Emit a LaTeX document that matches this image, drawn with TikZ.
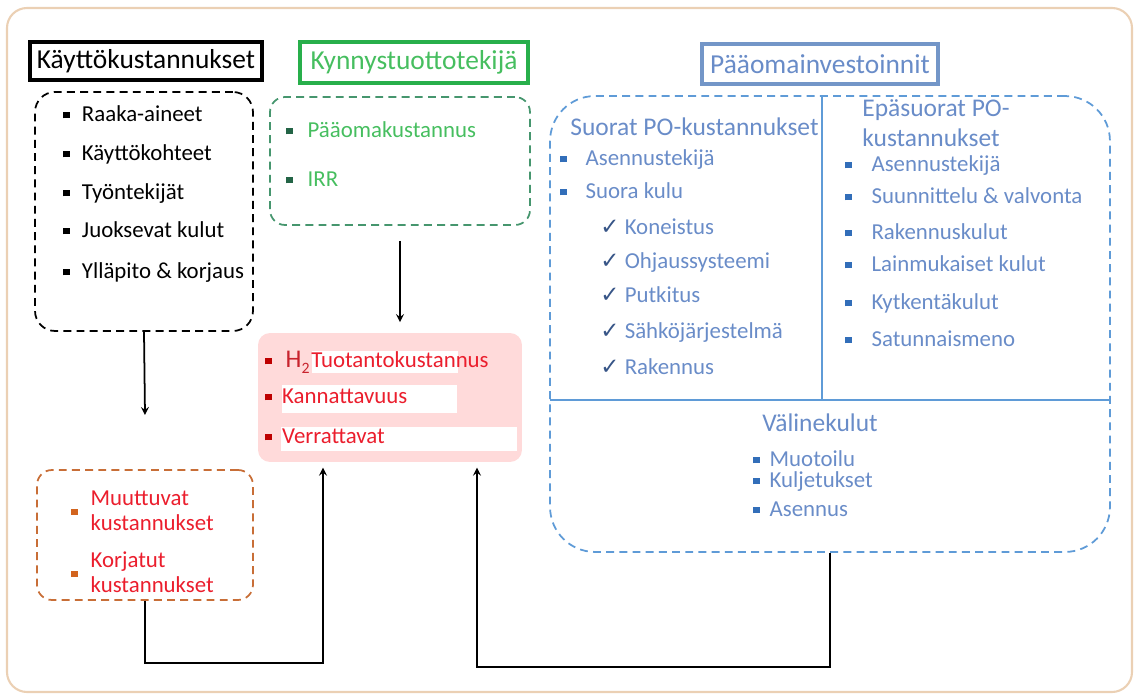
\documentclass[tikz,border=0pt]{standalone}
\usepackage{fontspec}
\setmainfont{Carlito}
\newfontfamily\symfont{DejaVu Sans}
\usetikzlibrary{arrows,positioning}

\definecolor{bord}{RGB}{235,208,180}
\definecolor{kgreen}{RGB}{40,175,75}
\definecolor{tgreen}{RGB}{70,190,95}
\definecolor{dgreen}{RGB}{70,150,110}
\definecolor{bgreen}{RGB}{35,100,70}
\definecolor{tblue}{RGB}{105,140,200}
\definecolor{kblue}{RGB}{115,150,200}
\definecolor{lblue}{RGB}{95,155,215}
\definecolor{bblue}{RGB}{50,110,185}
\definecolor{cblue}{RGB}{55,85,135}
\definecolor{tred}{RGB}{235,30,45}
\definecolor{hred}{RGB}{200,35,45}
\definecolor{bred}{RGB}{190,0,0}
\definecolor{pinkf}{RGB}{255,218,218}
\definecolor{orng}{RGB}{200,110,55}
\definecolor{borng}{RGB}{210,100,30}

\newcommand\blt[2][7pt]{\textcolor{#2}{\rule[0.3ex]{3.6pt}{3.6pt}}\hspace{#1}}
\newcommand\chk{{\color{cblue}\symfont ✓}\hspace{3pt}}

\tikzset{
  ttl/.style={draw, line width=2.2pt, inner sep=0pt,
    font=\fontsize{15.6}{18}\selectfont},
  dbox/.style={draw, line width=1pt, dash pattern=on 4.5pt off 3pt,
    rounded corners=0.4cm, inner sep=0pt},
  itm/.style={anchor=west, inner sep=0pt, text height=9pt, text depth=2.5pt,
    font=\fontsize{13}{15}\selectfont},
  hdg/.style={anchor=west, inner sep=0pt, text=tblue,
    font=\fontsize{14.5}{17}\selectfont},
  arr/.style={->, >=stealth, line width=1pt},
}

\begin{document}
\begin{tikzpicture}[x=0.02cm, y=-0.02cm]
  \useasboundingbox (0,0) rectangle (1136,695);
  \draw[bord, line width=1.2pt, rounded corners=0.4cm] (7,8) rectangle (1132,692);

  % titles
  \node[ttl, minimum width=4.64cm, minimum height=0.76cm] (ttlk) at (146,61)
    {Käyttökustannukset};
  \node[ttl, kgreen, text=tgreen, line width=1.8pt, minimum width=4.56cm,
    minimum height=0.82cm] (ttly) at (414,62.5) {Kynnystuottotekijä};
  \node[ttl, kblue, text=tblue, minimum width=4.72cm, minimum height=0.8cm]
    (ttlp) at (820,64) {Pääomainvestoinnit};

  % boxes
  \node[dbox, minimum width=4.36cm, minimum height=4.78cm] (kaytto) at (144,211.5) {};
  \node[dbox, dgreen, rounded corners=0.3cm, minimum width=5.2cm,
    minimum height=2.56cm] (kynnys) at (400,161) {};
  \node[fill=pinkf, rounded corners=0.24cm, minimum width=5.28cm,
    minimum height=2.58cm] (tulos) at (390,397.5) {};
  \node[dbox, orng, rounded corners=0.3cm, minimum width=4.32cm,
    minimum height=2.6cm] (muut) at (145,535) {};
  \node[dbox, lblue, rounded corners=0.9cm, minimum width=11.2cm,
    minimum height=9.12cm] (invest) at (830,324) {};
  \draw[lblue, line width=1.4pt] (822,96) -- (822,400);
  \draw[lblue, line width=1.4pt] (550,400) -- (1110,400);

  % operating costs
  \node[itm] (k1) at (63,116) {\blt{black}Raaka-aineet};
  \node[itm] (k2) at (63,155) {\blt{black}Käyttökohteet};
  \node[itm] (k3) at (63,194) {\blt{black}Työntekijät};
  \node[itm] (k4) at (63,232) {\blt{black}Juoksevat kulut};
  \node[itm] (k5) at (63,273) {\blt{black}Ylläpito \& korjaus};

  % threshold
  \node[itm, text=tgreen] (y1) at (286,132) {\blt[8.5pt]{bgreen}Pääomakustannus};
  \node[itm, text=tgreen] (y2) at (286,181) {\blt[8.5pt]{bgreen}IRR};

  % results
  \fill[white] (312,351) rectangle (458,373);
  \fill[white] (282,385) rectangle (457,413);
  \fill[white] (281,427) rectangle (517,451);
  \node[itm, text=tred] (t1) at (265,362)
    {\blt[8pt]{bred}{\color{hred}\fontsize{14.5}{16}\selectfont H\raisebox{-0.45ex}{\small 2}}\hspace{1pt}Tuotantokustannus};
  \node[itm, text=tred] (t2) at (265,398) {\blt[6pt]{bred}Kannattavuus};
  \node[itm, text=tred] (t3) at (265,438) {\blt[6pt]{bred}Verrattavat};

  % variable costs
  \node[itm, text=tred, text height=, text depth=] (m1) at (71,513)
    {\blt[7.4pt]{borng}\begin{tabular}{@{}l@{}}Muuttuvat\\[-1pt]kustannukset\end{tabular}};
  \node[itm, text=tred, text height=, text depth=] (m2) at (71,575)
    {\blt[7.4pt]{borng}\begin{tabular}{@{}l@{}}Korjatut\\[-1pt]kustannukset\end{tabular}};

  % direct
  \node[hdg] (s0) at (570,127) {Suorat PO-kustannukset};
  \node[itm, text=tblue] (s1) at (560,160) {\blt[10.8pt]{bblue}Asennustekijä};
  \node[itm, text=tblue] (s2) at (560,193) {\blt[10.8pt]{bblue}Suora kulu};
  \node[itm, text=tblue] (s3) at (600,229) {\chk Koneistus};
  \node[itm, text=tblue] (s4) at (600,263) {\chk Ohjaussysteemi};
  \node[itm, text=tblue] (s5) at (600,297) {\chk Putkitus};
  \node[itm, text=tblue] (s6) at (600,333) {\chk Sähköjärjestelmä};
  \node[itm, text=tblue] (s7) at (600,369) {\chk Rakennus};

  % indirect
  \node[hdg, align=left] (e0) at (862,123) {Epäsuorat PO-\\kustannukset};
  \node[itm, text=tblue] (e1) at (845,166) {\blt[11.3pt]{bblue}Asennustekijä};
  \node[itm, text=tblue] (e2) at (845,198) {\blt[11.3pt]{bblue}Suunnittelu \& valvonta};
  \node[itm, text=tblue] (e3) at (845,234) {\blt[11.3pt]{bblue}Rakennuskulut};
  \node[itm, text=tblue] (e4) at (845,266) {\blt[11.3pt]{bblue}Lainmukaiset kulut};
  \node[itm, text=tblue] (e5) at (845,304) {\blt[11.3pt]{bblue}Kytkentäkulut};
  \node[itm, text=tblue] (e6) at (845,341) {\blt[11.3pt]{bblue}Satunnaismeno};

  % equipment
  \node[hdg, anchor=center] (v0) at (820,423) {Välinekulut};
  \node[itm, text=tblue] (v1) at (753,461) {\blt[5.7pt]{bblue}Muotoilu};
  \node[itm, text=tblue] (v2) at (753,482) {\blt[5.7pt]{bblue}Kuljetukset};
  \node[itm, text=tblue] (v3) at (753,511) {\blt[5.7pt]{bblue}Asennus};

  % connectors
  \coordinate (kend) at (145,415);
  \coordinate (mbend) at (323,663);
  \coordinate (ibend) at (477,667);
  \draw[arr] (kaytto.south) -- (kend);
  \draw[arr, shorten <=8.5pt, shorten >=6pt] (kynnys.south) -- (kynnys.south |- tulos.north);
  \draw[arr, shorten >=3pt] (muut.south) |- (mbend) -- (mbend |- tulos.south);
  \draw[arr, shorten >=3pt] (invest.south) |- (ibend) -- (ibend |- tulos.south);
\end{tikzpicture}
\end{document}
